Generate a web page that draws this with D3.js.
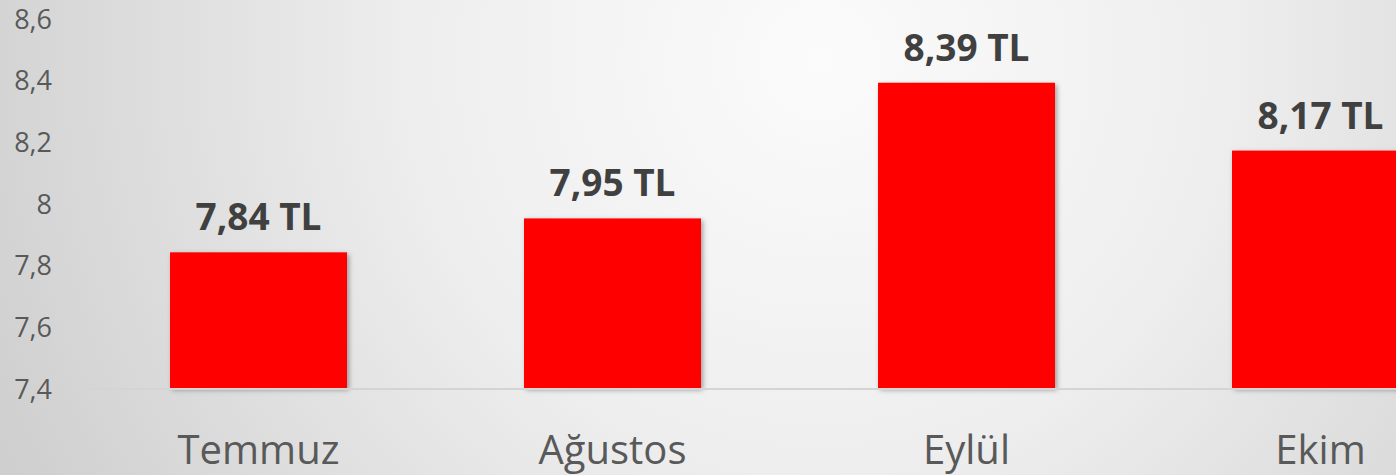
<!DOCTYPE html>
<html>
<head>
<meta charset="utf-8">
<script src="https://cdn.jsdelivr.net/npm/d3@7"></script>
<style>
  body { margin: 0; overflow: hidden; }
  svg { display: block; font-family: 'Open Sans', sans-serif; }
</style>
</head>
<body>
<div id="chart"></div>
<script>
const months = ['Temmuz', 'Ağustos', 'Eylül', 'Ekim']
const prices = [7.84, 7.95, 8.39, 8.17]
const priceLabels = ['7,84 TL', '7,95 TL', '8,39 TL', '8,17 TL']
const yTicks = [7.4, 7.6, 7.8, 8, 8.2, 8.4, 8.6]

const width = 1396
const height = 475

const svg = d3
  .select('#chart')
  .append('svg')
  .attr('width', width)
  .attr('height', height)

const defs = svg.append('defs')

const bg = defs
  .append('radialGradient')
  .attr('id', 'bg')
  .attr('gradientUnits', 'userSpaceOnUse')
  .attr('cx', 820)
  .attr('cy', 60)
  .attr('r', 900)
bg.append('stop').attr('offset', '0%').attr('stop-color', '#fbfbfb')
bg.append('stop').attr('offset', '45%').attr('stop-color', '#eeeeee')
bg.append('stop').attr('offset', '100%').attr('stop-color', '#cfcfcf')

const shadow = defs
  .append('filter')
  .attr('id', 'shadow')
  .attr('x', '-10%')
  .attr('y', '-10%')
  .attr('width', '130%')
  .attr('height', '130%')
shadow
  .append('feDropShadow')
  .attr('dx', 2)
  .attr('dy', 2)
  .attr('stdDeviation', 2.5)
  .attr('flood-color', '#000')
  .attr('flood-opacity', 0.35)

svg
  .append('rect')
  .attr('width', width)
  .attr('height', height)
  .attr('fill', 'url(#bg)')

// scales
const xScale = d3
  .scaleBand()
  .domain(months)
  .range([81.5, 1497.5])
  .paddingInner(0.5)
  .paddingOuter(0.25)

const yScale = d3.scaleLinear().domain([7.4, 8.6]).range([388, 18])

const fmt = d => String(d).replace('.', ',')

// y axis labels
svg
  .selectAll('.y-label')
  .data(yTicks)
  .enter()
  .append('text')
  .attr('class', 'y-label')
  .text(d => fmt(d))
  .attr('x', 52)
  .attr('y', d => yScale(d))
  .attr('text-anchor', 'end')
  .attr('dominant-baseline', 'central')
  .attr('font-size', 27)
  .attr('fill', '#595959')

// bars
svg
  .selectAll('.bar')
  .data(prices)
  .enter()
  .append('rect')
  .attr('class', 'bar')
  .attr('x', (d, i) => xScale(months[i]))
  .attr('y', d => yScale(d))
  .attr('width', xScale.bandwidth())
  .attr('height', d => yScale(7.4) - yScale(d))
  .attr('fill', '#ff0000')
  .attr('filter', 'url(#shadow)')

// baseline
svg
  .append('line')
  .attr('x1', 82)
  .attr('x2', width)
  .attr('y1', yScale(7.4) + 1)
  .attr('y2', yScale(7.4) + 1)
  .attr('stroke', '#d4d4d4')
  .attr('stroke-width', 2)

// value labels
svg
  .selectAll('.value-label')
  .data(prices)
  .enter()
  .append('text')
  .attr('class', 'value-label')
  .text((d, i) => priceLabels[i])
  .attr('x', (d, i) => xScale(months[i]) + xScale.bandwidth() / 2)
  .attr('y', d => yScale(d) - 22)
  .attr('text-anchor', 'middle')
  .attr('font-size', 37)
  .attr('font-weight', 'bold')
  .attr('fill', '#404040')

// category labels
svg
  .selectAll('.x-label')
  .data(months)
  .enter()
  .append('text')
  .attr('class', 'x-label')
  .text(d => d)
  .attr('x', d => xScale(d) + xScale.bandwidth() / 2)
  .attr('y', 464)
  .attr('text-anchor', 'middle')
  .attr('font-size', 40)
  .attr('fill', '#595959')
</script>
</body>
</html>
